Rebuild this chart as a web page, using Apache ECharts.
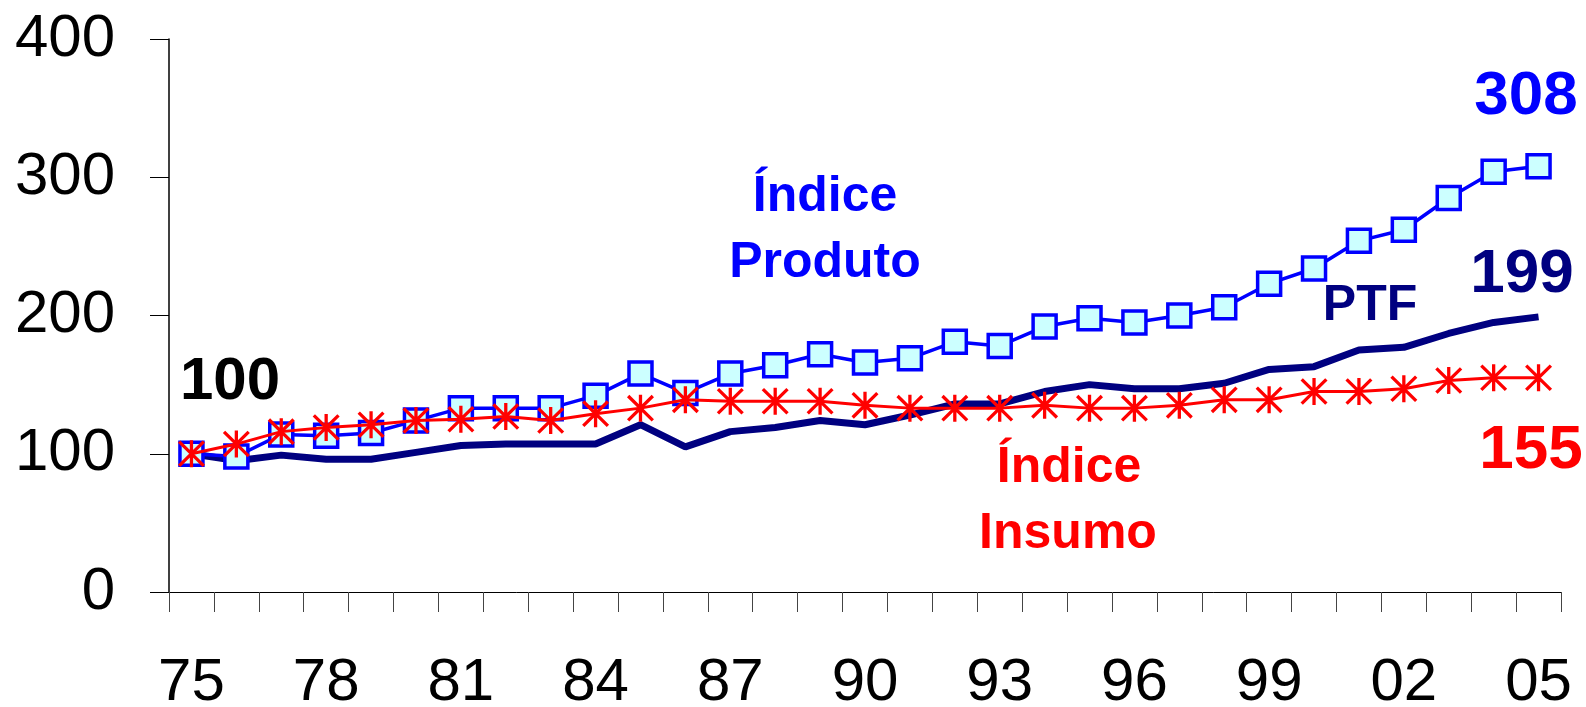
<!DOCTYPE html>
<html>
<head>
<meta charset="utf-8">
<script src="https://cdn.jsdelivr.net/npm/echarts@6/dist/echarts.min.js"></script>
<style>
	html, body { margin: 0; padding: 0; background: #fff; }
	#main { width: 1586px; height: 707px; }
</style>
</head>
<body>
<div id="main"></div>
<script>
// dados (1975 = 100)
var anos = ['75', '76', '77', '78', '79', '80', '81', '82', '83', '84', '85', '86', '87', '88', '89',
	'90', '91', '92', '93', '94', '95', '96', '97', '98', '99', '00', '01', '02', '03', '04', '05'];

var indiceProduto = [100, 98, 114, 113, 115, 124, 133, 133, 133, 142, 158, 144, 158, 164, 172,
	166, 169, 181, 178, 192, 198, 195, 200, 206, 223, 234, 254, 262, 285, 304, 308];

var indiceInsumo = [100, 107, 116, 119, 121, 124, 125, 127, 124, 129, 133, 139, 138, 138, 138,
	135, 133, 133, 133, 135, 133, 133, 135, 139, 139, 145, 145, 147, 153, 155, 155];

var ptf = [100, 95, 99, 96, 96, 101, 106, 107, 107, 107, 121, 105, 116, 119, 124,
	121, 128, 136, 136, 145, 150, 147, 147, 151, 161, 163, 175, 177, 187, 195, 199];

var eixoY = [0, 100, 200, 300, 400];

// asterisco: barra vertical + X
var asterisco = 'path://M-1.2,-10L1.2,-10L1.2,10L-1.2,10Z' +
	'M-8.15,-9.85L9.85,8.15L8.15,9.85L-9.85,-8.15Z' +
	'M9.85,-8.15L-8.15,9.85L-9.85,8.15L8.15,-9.85Z';

var fonte = '"Liberation Sans", Arial, sans-serif';

function rotulo(texto, x, y, cor, tam) {
	return {
		type: 'text',
		x: x,
		y: y,
		style: {
			text: texto,
			fill: cor,
			font: 'bold ' + tam + 'px ' + fonte,
			align: 'center',
			verticalAlign: 'middle',
			textAlign: 'center',
			textVerticalAlign: 'middle'
		}
	};
}

var option = {
	animation: false,
	backgroundColor: '#fff',
	grid: {
		left: 169,
		right: 25,
		top: 39,
		bottom: 115,
		outerBoundsMode: 'none'
	},
	xAxis: {
		type: 'category',
		data: anos,
		boundaryGap: true,
		axisLine: { lineStyle: { color: '#000', width: 1 } },
		axisTick: { show: true, interval: 0, length: 20, lineStyle: { color: '#444', width: 1 } },
		axisLabel: {
			interval: 2,
			margin: 61,
			color: '#000',
			fontSize: 60,
			fontFamily: fonte
		},
		splitLine: { show: false }
	},
	yAxis: {
		type: 'value',
		min: eixoY[0],
		max: eixoY[eixoY.length - 1],
		interval: 100,
		axisLine: { show: true, lineStyle: { color: '#000', width: 1.5 } },
		axisTick: { show: true, length: 19, lineStyle: { color: '#000', width: 1 } },
		axisLabel: {
			margin: 54,
			color: '#000',
			fontSize: 60,
			fontFamily: fonte
		},
		splitLine: { show: false }
	},
	series: [{
		name: 'PTF',
		type: 'line',
		data: ptf,
		symbol: 'none',
		lineStyle: { color: '#000080', width: 7 },
		z: 2
	}, {
		name: 'Índice Produto',
		type: 'line',
		data: indiceProduto,
		symbol: 'rect',
		symbolSize: 23,
		itemStyle: { color: '#ccffff', borderColor: '#0000ff', borderWidth: 3.5 },
		lineStyle: { color: '#0000ff', width: 3.5 },
		z: 3
	}, {
		name: 'Índice Insumo',
		type: 'line',
		data: indiceInsumo,
		symbol: asterisco,
		symbolSize: 27,
		itemStyle: { color: '#ff0000', borderWidth: 0 },
		lineStyle: { color: '#ff0000', width: 3 },
		z: 4
	}],
	graphic: [
		rotulo('Índice', 825, 197, '#0000ff', 50),
		rotulo('Produto', 825, 263, '#0000ff', 50),
		rotulo('Índice', 1069, 468, '#ff0000', 50),
		rotulo('Insumo', 1068, 534, '#ff0000', 50),
		rotulo('PTF', 1370, 306, '#000080', 50),
		rotulo('308', 1526, 97, '#0000ff', 62),
		rotulo('199', 1522, 275, '#000080', 62),
		rotulo('155', 1531, 451, '#ff0000', 62),
		rotulo('100', 230, 382, '#000', 60)
	]
};

var grafico = echarts.init(document.getElementById('main'));
grafico.setOption(option);
</script>
</body>
</html>
